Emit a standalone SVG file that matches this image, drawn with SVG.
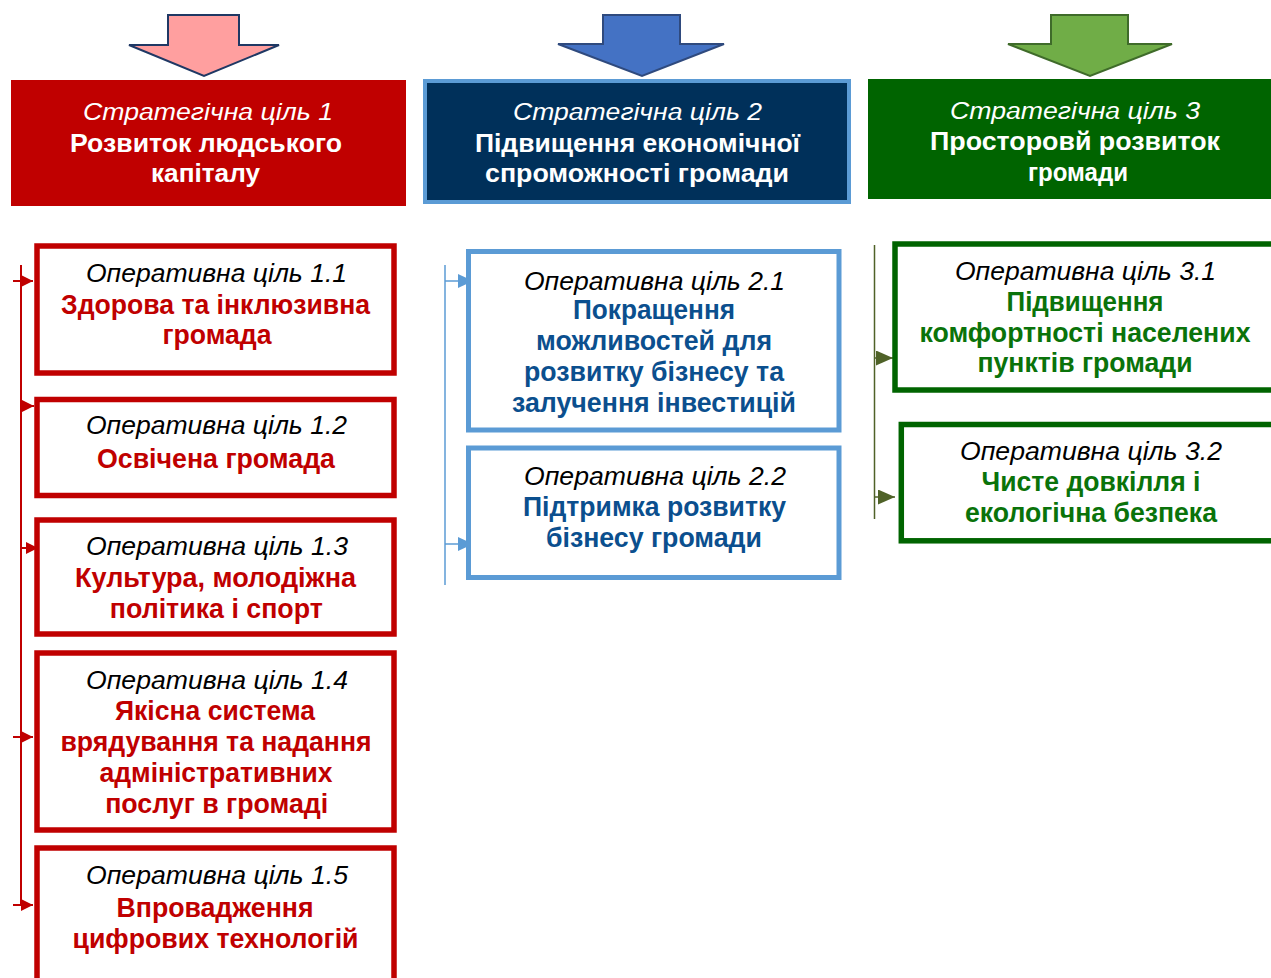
<svg xmlns="http://www.w3.org/2000/svg" width="1271" height="978" viewBox="0 0 1271 978">
<style>
text{font-family:"Liberation Sans",Arial,sans-serif;text-anchor:middle}
.hi{font-size:23px;font-style:italic;fill:#fff}
.hb{font-size:25px;font-weight:bold;fill:#fff}
.oi{font-size:25px;font-style:italic;fill:#000}
.ob{font-size:27px;font-weight:bold}
.red{fill:#C00000}
.blu{fill:#0B4F8E}
.grn{fill:#0A730A}
.b1{fill:#fff;stroke:#C00000;stroke-width:5.5}
.b2{fill:#fff;stroke:#5B9BD5;stroke-width:5}
.b3{fill:#fff;stroke:#006400;stroke-width:5.5}
.c1{stroke:#C00000;stroke-width:2;fill:none}
.c2{stroke:#5B9BD5;stroke-width:1.5;fill:none}
.c3{stroke:#4F6228;stroke-width:1.5;fill:none}
</style>
<defs>
<marker id="mr" markerUnits="userSpaceOnUse" markerWidth="12" markerHeight="12" refX="12" refY="6" orient="auto"><path d="M0,0L12,6L0,12z" fill="#C00000"/></marker>
<marker id="mb" markerUnits="userSpaceOnUse" markerWidth="15" markerHeight="14" refX="15" refY="7" orient="auto"><path d="M0,0L15,7L0,14z" fill="#5B9BD5"/></marker>
<marker id="mg" markerUnits="userSpaceOnUse" markerWidth="17" markerHeight="15" refX="17" refY="7.5" orient="auto"><path d="M0,0L17,7.5L0,15z" fill="#4F6228"/></marker>
</defs>

<g id="arrow1"><path d="M168,15H239V45H279L204,76L129,45H168Z" fill="#FF9F9F" stroke="#1F3864" stroke-width="2" stroke-linejoin="miter"/></g>
<g id="arrow2"><path d="M603,15H680V44H724L642,76L558,44H603Z" fill="#4472C4" stroke="#2F4A7E" stroke-width="2"/></g>
<g id="arrow3"><path d="M1051,15H1128V44H1172L1090,76L1008,44H1051Z" fill="#70AD47" stroke="#3F6B2A" stroke-width="2"/></g>

<g id="goal1">
<rect x="11" y="80" width="395" height="126" fill="#C00000"/>
<text class="hi" x="208" y="120" textLength="250" lengthAdjust="spacingAndGlyphs">Стратегічна ціль 1</text>
<text class="hb" x="206" y="151.5" textLength="272" lengthAdjust="spacingAndGlyphs">Розвиток людського</text>
<text class="hb" x="205.5" y="182" textLength="109" lengthAdjust="spacingAndGlyphs">капіталу</text>
</g>

<g id="goal2">
<rect x="425" y="81" width="424" height="121" fill="#00305A" stroke="#5B9BD5" stroke-width="4"/>
<text class="hi" x="637.5" y="120" textLength="249" lengthAdjust="spacingAndGlyphs">Стратегічна ціль 2</text>
<text class="hb" x="637.5" y="151.5" textLength="325" lengthAdjust="spacingAndGlyphs">Підвищення економічної</text>
<text class="hb" x="637" y="182" textLength="304" lengthAdjust="spacingAndGlyphs">спроможності громади</text>
</g>

<g id="goal3">
<rect x="868" y="79" width="403" height="120" fill="#006400"/>
<text class="hi" x="1075" y="119" textLength="250" lengthAdjust="spacingAndGlyphs">Стратегічна ціль 3</text>
<text class="hb" x="1075" y="150" textLength="290" lengthAdjust="spacingAndGlyphs">Просторовй розвиток</text>
<text class="hb" x="1078" y="181" textLength="100" lengthAdjust="spacingAndGlyphs">громади</text>
</g>

<g id="connectors">
<path class="c1" d="M21,265V905"/>
<path class="c1" d="M13,281H33" marker-end="url(#mr)"/>
<path class="c1" d="M21,406H34" marker-end="url(#mr)"/>
<path class="c1" d="M21,548H38" marker-end="url(#mr)"/>
<path class="c1" d="M13,737H33" marker-end="url(#mr)"/>
<path class="c1" d="M13,905H33" marker-end="url(#mr)"/>
<path class="c2" d="M445,265V585"/>
<path class="c2" d="M445,281H473" marker-end="url(#mb)"/>
<path class="c2" d="M445,544H473" marker-end="url(#mb)"/>
<path class="c3" d="M874.5,245V519"/>
<path class="c3" d="M874.5,358H893" marker-end="url(#mg)"/>
<path class="c3" d="M874.5,497H895" marker-end="url(#mg)"/>
</g>

<g id="op11">
<rect class="b1" x="37" y="246" width="357" height="127"/>
<text class="oi" x="216.5" y="282" textLength="261" lengthAdjust="spacingAndGlyphs">Оперативна ціль 1.1</text>
<text class="ob red" x="215.5" y="313.5" textLength="309" lengthAdjust="spacingAndGlyphs">Здорова та інклюзивна</text>
<text class="ob red" x="217" y="344" textLength="109" lengthAdjust="spacingAndGlyphs">громада</text>
</g>

<g id="op12">
<rect class="b1" x="37" y="399.5" width="357" height="96"/>
<text class="oi" x="216.5" y="434" textLength="261" lengthAdjust="spacingAndGlyphs">Оперативна ціль 1.2</text>
<text class="ob red" x="216" y="467.5" textLength="238" lengthAdjust="spacingAndGlyphs">Освічена громада</text>
</g>

<g id="op13">
<rect class="b1" x="37" y="520" width="357" height="114"/>
<text class="oi" x="217" y="555" textLength="262" lengthAdjust="spacingAndGlyphs">Оперативна ціль 1.3</text>
<text class="ob red" x="215.5" y="586.5" textLength="281" lengthAdjust="spacingAndGlyphs">Культура, молодіжна</text>
<text class="ob red" x="216.3" y="618" textLength="213" lengthAdjust="spacingAndGlyphs">політика і спорт</text>
</g>

<g id="op14">
<rect class="b1" x="37" y="653" width="357" height="177"/>
<text class="oi" x="217" y="689" textLength="262" lengthAdjust="spacingAndGlyphs">Оперативна ціль 1.4</text>
<text class="ob red" x="215" y="720" textLength="200" lengthAdjust="spacingAndGlyphs">Якісна система</text>
<text class="ob red" x="216" y="751" textLength="311" lengthAdjust="spacingAndGlyphs">врядування та надання</text>
<text class="ob red" x="216" y="782" textLength="233" lengthAdjust="spacingAndGlyphs">адміністративних</text>
<text class="ob red" x="216.7" y="813" textLength="223" lengthAdjust="spacingAndGlyphs">послуг в громаді</text>
</g>

<g id="op15">
<rect class="b1" x="37" y="848" width="357" height="200"/>
<text class="oi" x="217" y="884" textLength="262" lengthAdjust="spacingAndGlyphs">Оперативна ціль 1.5</text>
<text class="ob red" x="215" y="917" textLength="197" lengthAdjust="spacingAndGlyphs">Впровадження</text>
<text class="ob red" x="215.5" y="948" textLength="286" lengthAdjust="spacingAndGlyphs">цифрових технологій</text>
</g>

<g id="op21">
<rect class="b2" x="468.5" y="251.5" width="370.5" height="178.5"/>
<text class="oi" x="654.5" y="289.5" textLength="261" lengthAdjust="spacingAndGlyphs">Оперативна ціль 2.1</text>
<text class="ob blu" x="654" y="318.5" textLength="162" lengthAdjust="spacingAndGlyphs">Покращення</text>
<text class="ob blu" x="654" y="349.5" textLength="236" lengthAdjust="spacingAndGlyphs">можливостей для</text>
<text class="ob blu" x="654" y="381" textLength="260" lengthAdjust="spacingAndGlyphs">розвитку бізнесу та</text>
<text class="ob blu" x="654" y="412" textLength="284" lengthAdjust="spacingAndGlyphs">залучення інвестицій</text>
</g>

<g id="op22">
<rect class="b2" x="468.5" y="448" width="370.5" height="129.5"/>
<text class="oi" x="655" y="485" textLength="262" lengthAdjust="spacingAndGlyphs">Оперативна ціль 2.2</text>
<text class="ob blu" x="654.5" y="516" textLength="263" lengthAdjust="spacingAndGlyphs">Підтримка розвитку</text>
<text class="ob blu" x="654" y="547" textLength="216" lengthAdjust="spacingAndGlyphs">бізнесу громади</text>
</g>

<g id="op31">
<rect class="b3" x="895" y="244" width="400" height="146"/>
<text class="oi" x="1085.5" y="280" textLength="261" lengthAdjust="spacingAndGlyphs">Оперативна ціль 3.1</text>
<text class="ob grn" x="1085" y="311" textLength="157" lengthAdjust="spacingAndGlyphs">Підвищення</text>
<text class="ob grn" x="1085" y="342" textLength="331" lengthAdjust="spacingAndGlyphs">комфортності населених</text>
<text class="ob grn" x="1085" y="372" textLength="215" lengthAdjust="spacingAndGlyphs">пунктів громади</text>
</g>

<g id="op32">
<rect class="b3" x="901.3" y="424.5" width="400" height="116.3"/>
<text class="oi" x="1091" y="460" textLength="262" lengthAdjust="spacingAndGlyphs">Оперативна ціль 3.2</text>
<text class="ob grn" x="1091" y="491" textLength="219" lengthAdjust="spacingAndGlyphs">Чисте довкілля і</text>
<text class="ob grn" x="1091" y="521.5" textLength="252" lengthAdjust="spacingAndGlyphs">екологічна безпека</text>
</g>
</svg>
